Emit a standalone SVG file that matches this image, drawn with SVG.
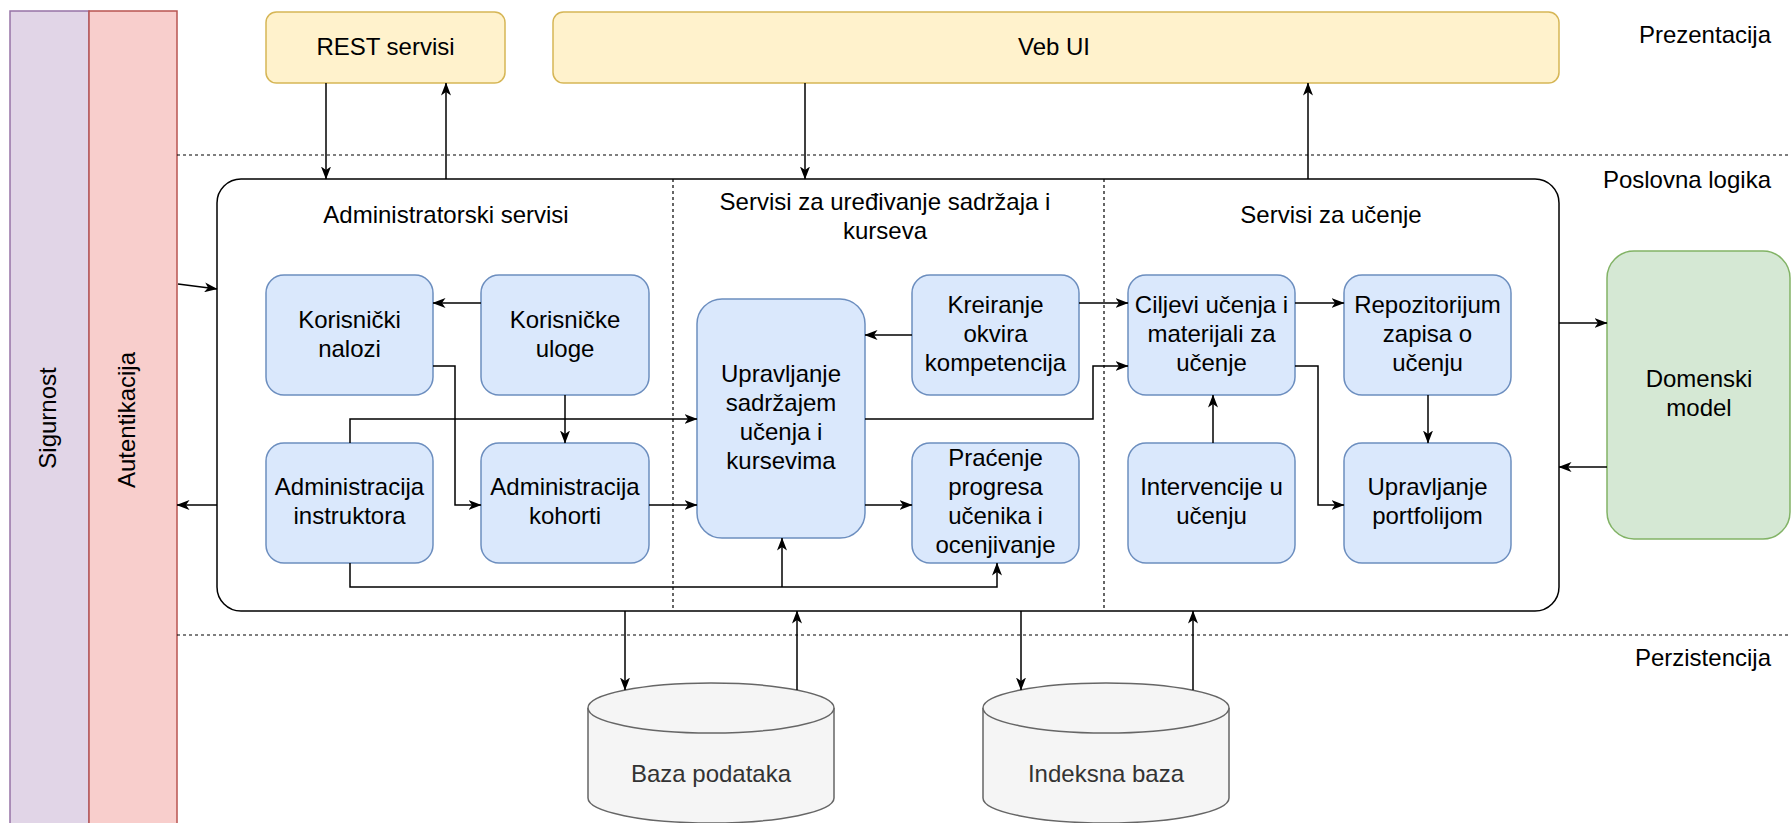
<svg xmlns="http://www.w3.org/2000/svg" width="1791" height="823" viewBox="0 0 1791 823">
<defs>
<style>
text{font-family:"Liberation Sans",Arial,Helvetica,sans-serif;font-size:24px;fill:#000;text-anchor:middle}
.blue{fill:#dae8fc;stroke:#6c8ebf;stroke-width:1.5}
.yel{fill:#fff2cc;stroke:#d6b656;stroke-width:1.5}
.grn{fill:#d5e8d4;stroke:#82b366;stroke-width:1.5}
.db{fill:#f5f5f5;stroke:#666666;stroke-width:1.5}
.dbt{fill:#333333}
.dash{stroke:#000;stroke-width:1.2;stroke-dasharray:3 3;fill:none}
.cn path{fill:none;stroke:#000;stroke-width:1.5;marker-end:url(#arr)}
.lbl{text-anchor:end}
</style>
<marker id="arr" markerUnits="userSpaceOnUse" markerWidth="13" markerHeight="10" viewBox="0 0 13 10" refX="12.5" refY="5" orient="auto"><path d="M0,0 L13,5 L0,10 L3.5,5 z" fill="#000"/></marker>
</defs>
<rect width="1791" height="823" fill="#fff"/>

<g id="sigurnost"><rect x="10" y="11" width="79" height="820" fill="#e1d5e7" stroke="#9673a6" stroke-width="1.5"/><text transform="translate(55.5,418) rotate(-90)">Sigurnost</text></g>
<g id="autentikacija"><rect x="89" y="11" width="88" height="820" fill="#f8cecc" stroke="#b85450" stroke-width="1.5"/><text transform="translate(134.5,420) rotate(-90)">Autentikacija</text></g>

<g id="layers">
<path class="dash" d="M177,155 H1791 M177,635 H1791"/>
<text class="lbl" x="1771" y="43">Prezentacija</text>
<text class="lbl" x="1771" y="188">Poslovna logika</text>
<text class="lbl" x="1771" y="666">Perzistencija</text>
</g>

<g id="rest"><rect class="yel" x="266" y="12" width="239" height="71" rx="10.5"/><text x="385.5" y="55">REST servisi</text></g>
<g id="vebui"><rect class="yel" x="553" y="12" width="1006" height="71" rx="10.5"/><text x="1054" y="55">Veb UI</text></g>

<g id="container">
<rect x="217" y="179" width="1342" height="432" rx="24" fill="#fff" stroke="#000" stroke-width="1.5"/>
<path class="dash" d="M673,179 V611 M1104,179 V611"/>
<text x="446" y="223">Administratorski servisi</text>
<text x="885" y="210">Servisi za uređivanje sadržaja i</text>
<text x="885" y="239">kurseva</text>
<text x="1331" y="223">Servisi za učenje</text>
</g>

<g id="korisnicki-nalozi"><rect class="blue" x="266" y="275" width="167" height="120" rx="18"/><text x="349.5" y="328">Korisnički</text><text x="349.5" y="357">nalozi</text></g>
<g id="korisnicke-uloge"><rect class="blue" x="481" y="275" width="168" height="120" rx="18"/><text x="565" y="328">Korisničke</text><text x="565" y="357">uloge</text></g>
<g id="admin-instruktora"><rect class="blue" x="266" y="443" width="167" height="120" rx="18"/><text x="349.5" y="495">Administracija</text><text x="349.5" y="524">instruktora</text></g>
<g id="admin-kohorti"><rect class="blue" x="481" y="443" width="168" height="120" rx="18"/><text x="565" y="495">Administracija</text><text x="565" y="524">kohorti</text></g>
<g id="upravljanje-sadrzajem"><rect class="blue" x="697" y="299" width="168" height="239" rx="25"/><text x="781" y="382">Upravljanje</text><text x="781" y="411">sadržajem</text><text x="781" y="440">učenja i</text><text x="781" y="469">kursevima</text></g>
<g id="kreiranje"><rect class="blue" x="912" y="275" width="167" height="120" rx="18"/><text x="995.5" y="313">Kreiranje</text><text x="995.5" y="342">okvira</text><text x="995.5" y="371">kompetencija</text></g>
<g id="pracenje"><rect class="blue" x="912" y="443" width="167" height="120" rx="18"/><text x="995.5" y="466">Praćenje</text><text x="995.5" y="495">progresa</text><text x="995.5" y="524">učenika i</text><text x="995.5" y="553">ocenjivanje</text></g>
<g id="ciljevi"><rect class="blue" x="1128" y="275" width="167" height="120" rx="18"/><text x="1211.5" y="313">Ciljevi učenja i</text><text x="1211.5" y="342">materijali za</text><text x="1211.5" y="371">učenje</text></g>
<g id="intervencije"><rect class="blue" x="1128" y="443" width="167" height="120" rx="18"/><text x="1211.5" y="495">Intervencije u</text><text x="1211.5" y="524">učenju</text></g>
<g id="repozitorijum"><rect class="blue" x="1344" y="275" width="167" height="120" rx="18"/><text x="1427.5" y="313">Repozitorijum</text><text x="1427.5" y="342">zapisa o</text><text x="1427.5" y="371">učenju</text></g>
<g id="portfolio"><rect class="blue" x="1344" y="443" width="167" height="120" rx="18"/><text x="1427.5" y="495">Upravljanje</text><text x="1427.5" y="524">portfolijom</text></g>
<g id="domenski-model"><rect class="grn" x="1607" y="251" width="183" height="288" rx="27"/><text x="1699" y="387">Domenski</text><text x="1699" y="416">model</text></g>

<g id="baza-podataka"><path class="db" d="M588,708 A123,25 0 0,1 834,708 L834,798 A123,25 0 0,1 588,798 Z"/><path class="db" fill="none" d="M588,708 A123,25 0 0,0 834,708"/><text class="dbt" x="711" y="782">Baza podataka</text></g>
<g id="indeksna-baza"><path class="db" d="M983,708 A123,25 0 0,1 1229,708 L1229,798 A123,25 0 0,1 983,798 Z"/><path class="db" fill="none" d="M983,708 A123,25 0 0,0 1229,708"/><text class="dbt" x="1106" y="782">Indeksna baza</text></g>

<g id="connectors" class="cn">
<path d="M326,83 L326,179"/>
<path d="M446,179 L446,83"/>
<path d="M805,83 L805,179"/>
<path d="M1308,179 L1308,83"/>
<path d="M178,284 L217,289"/>
<path d="M217,505 L177,505"/>
<path d="M481,303 L433,303"/>
<path d="M565,395 L565,443"/>
<path d="M433,366 L455,366 L455,505 L481,505"/>
<path d="M350,443 L350,419 L697,419"/>
<path d="M649,505 L697,505"/>
<path d="M350,563 L350,587 L997,587 L997,563"/>
<path d="M782,587 L782,538"/>
<path d="M912,335 L865,335"/>
<path d="M1079,303 L1128,303"/>
<path d="M865,419 L1093,419 L1093,366 L1128,366"/>
<path d="M865,505 L912,505"/>
<path d="M1213,443 L1213,395"/>
<path d="M1295,303 L1344,303"/>
<path d="M1295,366 L1318,366 L1318,505 L1344,505"/>
<path d="M1428,395 L1428,443"/>
<path d="M1559,323 L1607,323"/>
<path d="M1607,467 L1559,467"/>
<path d="M625,611 L625,690"/>
<path d="M797,690 L797,611"/>
<path d="M1021,611 L1021,690"/>
<path d="M1193,690 L1193,611"/>
</g>
</svg>
